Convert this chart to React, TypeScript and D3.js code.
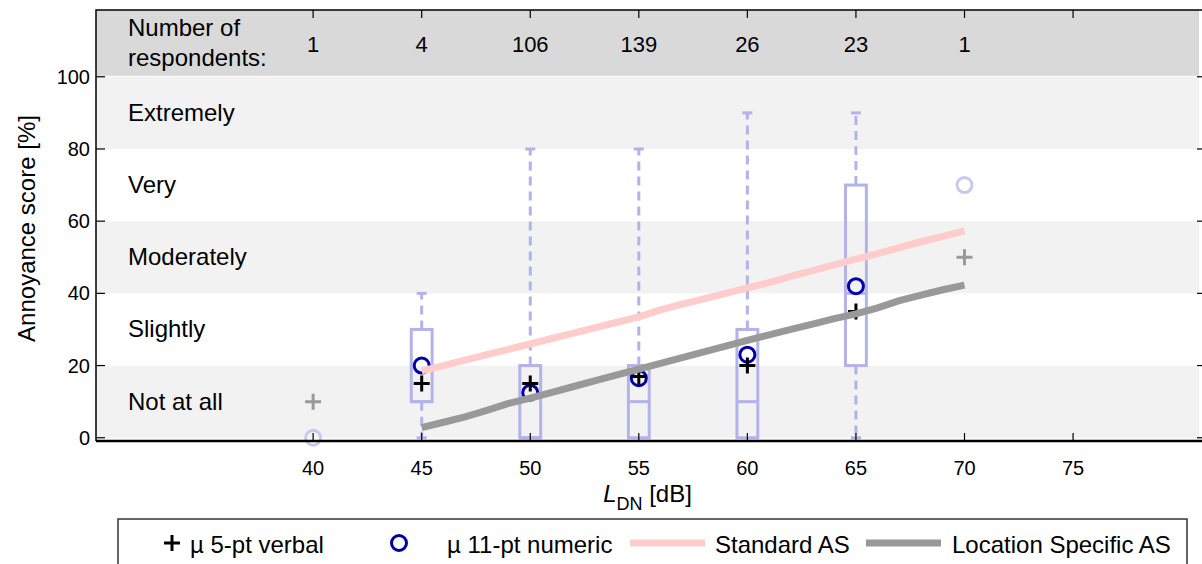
import { useRef, useEffect } from 'react';
import * as d3 from 'd3';

// L_DN categories with respondents
const levels = [40, 45, 50, 55, 60, 65, 70];
const respondents = ['1', '4', '106', '139', '26', '23', '1'];
const xTicks = [40, 45, 50, 55, 60, 65, 70, 75];
const yTicks = [0, 20, 40, 60, 80, 100];

// verbal category bands (label at band middle)
const bandLabels = ['Not at all', 'Slightly', 'Moderately', 'Very', 'Extremely'];
const bandLows = [0, 20, 40, 60, 80];

// box plots (levels with enough respondents)
const boxLevels = [45, 50, 55, 60, 65];
const boxQ1 = [10, 0, 0, 0, 20];
const boxMed = [10, 0, 10, 10, 40];
const boxQ3 = [30, 20, 20, 30, 70];
const whiskLo = [0, 0, 0, 0, 0];
const whiskHi = [40, 80, 80, 90, 90];

// means
const verbalMean = [10, 15, 15, 17, 20, 35, 50];
const numericMean = [0, 20, 12.5, 16.5, 23, 42, 70];
const faded = [true, false, false, false, false, false, true];

// exposure-response curves
const curveX = [45, 46, 47, 48, 49, 50, 51, 52, 53, 54, 55, 56, 57, 58, 59, 60, 61, 62, 63, 64, 65, 66, 67, 68, 69, 70];
const standardAS = [18.5, 20, 21.5, 23, 24.5, 26, 27.5, 29, 30.5, 32, 33.5, 35.4, 37, 38.5, 40, 41.5, 43, 44.7, 46.3, 47.9, 49.5, 51, 52.7, 54.3, 55.8, 57.3];
const locationAS = [2.8, 4.3, 5.8, 7.6, 9.5, 11, 12.6, 14.2, 15.8, 17.4, 19, 20.6, 22.2, 23.8, 25.4, 27, 28.5, 30, 31.5, 33, 34.3, 36, 38, 39.5, 41, 42.3];

const W = 1202;
const H = 564;
const FONT = '"Liberation Sans", Arial, sans-serif';
const BOX = '#b3b3ea';
const LABEL = 24;
const TICK = 20;

export default function App() {
  const ref = useRef<SVGSVGElement>(null);

  useEffect(() => {
    const svg = d3.select(ref.current);
    svg.selectAll('*').remove();

    const left = 96, right = 1199, top = 10, bottom = 441;
    const x = d3.scaleLinear().domain([30, 80.8]).range([left, right]);
    const y = d3.scaleLinear().domain([-0.9, 118.5]).range([bottom, top]);

    const g = svg.append('g').attr('font-family', FONT);

    // header band
    g.append('rect')
      .attr('x', left).attr('y', top)
      .attr('width', right - left).attr('height', y(100) - top - 1)
      .attr('fill', '#d9d9d9');

    // alternating bands
    bandLows.forEach((lo, i) => {
      g.append('rect')
        .attr('x', left).attr('y', y(lo + 20))
        .attr('width', right - left).attr('height', y(lo) - y(lo + 20))
        .attr('fill', i % 2 === 0 ? '#f2f2f2' : '#ffffff');
      g.append('text')
        .attr('x', 128).attr('y', y(lo + 10) + 8)
        .attr('font-size', LABEL).text(bandLabels[i]);
    });

    // header texts
    g.append('text').attr('x', 128).attr('y', 36).attr('font-size', LABEL).text('Number of');
    g.append('text').attr('x', 128).attr('y', 66).attr('font-size', LABEL).text('respondents:');
    levels.forEach((lv, i) => {
      g.append('text')
        .attr('x', x(lv)).attr('y', 52)
        .attr('text-anchor', 'middle').attr('font-size', 22)
        .text(respondents[i]);
    });

    // box plots
    const hw = 0.48;
    boxLevels.forEach((lv, i) => {
      const cx = x(lv);
      const cap = 5;
      if (whiskHi[i] > boxQ3[i]) {
        g.append('line')
          .attr('x1', cx).attr('x2', cx)
          .attr('y1', y(boxQ3[i])).attr('y2', y(whiskHi[i]))
          .attr('stroke', BOX).attr('stroke-width', 3).attr('stroke-dasharray', '9,6');
        g.append('line')
          .attr('x1', cx - cap).attr('x2', cx + cap)
          .attr('y1', y(whiskHi[i])).attr('y2', y(whiskHi[i]))
          .attr('stroke', BOX).attr('stroke-width', 3);
      }
      if (whiskLo[i] < boxQ1[i]) {
        g.append('line')
          .attr('x1', cx).attr('x2', cx)
          .attr('y1', y(boxQ1[i])).attr('y2', y(whiskLo[i]))
          .attr('stroke', BOX).attr('stroke-width', 3).attr('stroke-dasharray', '9,6');
        g.append('line')
          .attr('x1', cx - cap).attr('x2', cx + cap)
          .attr('y1', y(whiskLo[i])).attr('y2', y(whiskLo[i]))
          .attr('stroke', BOX).attr('stroke-width', 3);
      }
      g.append('rect')
        .attr('x', x(lv - hw)).attr('y', y(boxQ3[i]))
        .attr('width', x(lv + hw) - x(lv - hw)).attr('height', y(boxQ1[i]) - y(boxQ3[i]))
        .attr('fill', 'none').attr('stroke', BOX).attr('stroke-width', 3);
      g.append('line')
        .attr('x1', x(lv - hw)).attr('x2', x(lv + hw))
        .attr('y1', y(boxMed[i])).attr('y2', y(boxMed[i]))
        .attr('stroke', BOX).attr('stroke-width', 3);
    });

    // mean markers
    levels.forEach((lv, i) => {
      const cx = x(lv);
      const cy = y(numericMean[i]);
      g.append('circle')
        .attr('cx', cx).attr('cy', cy).attr('r', 7.5)
        .attr('fill', 'none')
        .attr('stroke', faded[i] ? '#c8c8f0' : '#0000a8')
        .attr('stroke-width', 3);
      const py = y(verbalMean[i]);
      const s = 8;
      const pc = faded[i] ? '#999999' : '#000000';
      g.append('path')
        .attr('d', `M${cx - s},${py}H${cx + s}M${cx},${py - s}V${py + s}`)
        .attr('stroke', pc).attr('stroke-width', 3);
    });

    // curves
    const line = d3.line<number>()
      .x((_, i) => x(curveX[i]))
      .y((d) => y(d));
    g.append('path').datum(standardAS)
      .attr('d', line).attr('fill', 'none')
      .attr('stroke', '#ffcccc').attr('stroke-width', 7);
    g.append('path').datum(locationAS)
      .attr('d', line).attr('fill', 'none')
      .attr('stroke', '#999999').attr('stroke-width', 7);

    // axes frame
    g.append('path')
      .attr('d', `M${left},${bottom}V${top}H${W + 2}`)
      .attr('fill', 'none').attr('stroke', '#000').attr('stroke-width', 1.5);
    g.append('line')
      .attr('x1', left).attr('x2', W + 2).attr('y1', bottom).attr('y2', bottom)
      .attr('stroke', '#000').attr('stroke-width', 2.5);

    // y ticks
    yTicks.forEach((t) => {
      g.append('line').attr('x1', left).attr('x2', left + 9)
        .attr('y1', y(t)).attr('y2', y(t)).attr('stroke', '#000').attr('stroke-width', 1.2);
      g.append('line').attr('x1', right - 2).attr('x2', right + 3)
        .attr('y1', y(t)).attr('y2', y(t)).attr('stroke', '#000').attr('stroke-width', 1.2);
      g.append('text')
        .attr('x', left - 6).attr('y', y(t) + 7)
        .attr('text-anchor', 'end').attr('font-size', TICK).text(t);
    });

    // x ticks
    xTicks.forEach((t) => {
      g.append('line').attr('x1', x(t)).attr('x2', x(t))
        .attr('y1', bottom).attr('y2', bottom - 8).attr('stroke', '#000').attr('stroke-width', 1.2);
      g.append('line').attr('x1', x(t)).attr('x2', x(t))
        .attr('y1', top).attr('y2', top + 8).attr('stroke', '#000').attr('stroke-width', 1.2);
      g.append('text')
        .attr('x', x(t)).attr('y', 475)
        .attr('text-anchor', 'middle').attr('font-size', TICK).text(t);
    });

    // axis labels
    const xl = g.append('text').attr('x', (left + right) / 2).attr('y', 502)
      .attr('text-anchor', 'middle').attr('font-size', LABEL);
    xl.append('tspan').attr('font-style', 'italic').text('L');
    xl.append('tspan').attr('font-size', 18).attr('dy', 8).text('DN');
    xl.append('tspan').attr('dy', -8).text(' [dB]');
    g.append('text')
      .attr('transform', `translate(35,${(top + bottom) / 2 + 3}) rotate(-90)`)
      .attr('text-anchor', 'middle').attr('font-size', LABEL)
      .text('Annoyance score [%]');

    // legend
    const lg = g.append('g');
    lg.append('rect').attr('x', 118).attr('y', 519).attr('width', 1187 - 118).attr('height', 60)
      .attr('fill', '#fff').attr('stroke', '#333').attr('stroke-width', 1.5);
    const ly = 543;
    lg.append('path').attr('d', `M${164},${ly}H${180}M${172},${ly - 8}V${ly + 8}`)
      .attr('stroke', '#000').attr('stroke-width', 3);
    lg.append('text').attr('x', 190).attr('y', 553).attr('font-size', LABEL).text('\u00b5 5-pt verbal');
    lg.append('circle').attr('cx', 399).attr('cy', ly).attr('r', 7.5)
      .attr('fill', 'none').attr('stroke', '#0000a8').attr('stroke-width', 3);
    lg.append('text').attr('x', 447).attr('y', 553).attr('font-size', LABEL).text('\u00b5 11-pt numeric');
    lg.append('line').attr('x1', 630).attr('x2', 705).attr('y1', ly).attr('y2', ly)
      .attr('stroke', '#ffcccc').attr('stroke-width', 7);
    lg.append('text').attr('x', 715).attr('y', 553).attr('font-size', LABEL).text('Standard AS');
    lg.append('line').attr('x1', 866).attr('x2', 941).attr('y1', ly).attr('y2', ly)
      .attr('stroke', '#999999').attr('stroke-width', 7);
    lg.append('text').attr('x', 952).attr('y', 553).attr('font-size', LABEL).text('Location Specific AS');
  }, []);

  return (
    <div style={{ position: 'absolute', left: 0, top: 0, background: '#fff' }}>
      <svg ref={ref} width={W} height={H} />
    </div>
  );
}
